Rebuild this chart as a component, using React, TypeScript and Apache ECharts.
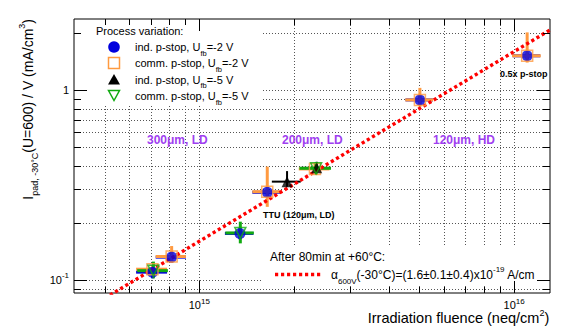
import React, { useEffect, useRef } from 'react';
import * as echarts from 'echarts';

const FONT = 'Liberation Sans, Arial, Helvetica, sans-serif';

// Axis ranges (read from the frame)
const X_MIN = 4.0e14;
const X_MAX = 1.3e16;
const Y_MIN = 0.0854;
const Y_MAX = 2.376;

// Grid / tick positions (log axes: 2..9 x decade)
const X_GRID = [5e14, 6e14, 7e14, 8e14, 9e14, 1e15, 2e15, 3e15, 4e15, 5e15, 6e15, 7e15, 8e15, 9e15, 1e16];
const Y_GRID = [0.09, 0.1, 0.2, 0.3, 0.4, 0.5, 0.6, 0.7, 0.8, 0.9, 1, 2];

// Each point: [fluence, I/V (mA/cm3), fluence error, I/V error low, I/V error high]
const indPstop2V = [
  [7.1e14, 0.110, 0.8e14, 0.008, 0.008],
  [8.17e14, 0.132, 0.9e14, 0.008, 0.008],
  [1.346e15, 0.176, 1.4e14, 0.012, 0.012],
  [1.644e15, 0.290, 1.7e14, 0.012, 0.012],
  [5.02e15, 0.89, 5.0e14, 0.04, 0.04],
  [1.1e16, 1.52, 1.1e15, 0.06, 0.06],
];
const commPstop2V = [
  [7.1e14, 0.114, 0.8e14, 0.006, 0.006],
  [8.17e14, 0.133, 0.9e14, 0.010, 0.018],
  [1.644e15, 0.292, 1.7e14, 0.049, 0.104],
  [2.33e15, 0.385, 2.6e14, 0.02, 0.025],
  [5.02e15, 0.89, 5.1e14, 0.07, 0.14],
  [1.1e16, 1.52, 1.15e15, 0.12, 0.5],
];
const indPstop5V = [
  [1.9e15, 0.33, 2.0e14, 0.02, 0.045],
  [2.36e15, 0.39, 2.6e14, 0.02, 0.03],
];
const commPstop5V = [
  [7.15e14, 0.112, 0.8e14, 0.010, 0.013],
  [1.35e15, 0.177, 1.4e14, 0.021, 0.026],
  [2.35e15, 0.388, 2.7e14, 0.03, 0.03],
];

// Fit line  alpha = 1.6e-19 A/cm  (end points read on the plot)
const FIT_LINE_X = [4.0e14, 1.3e16];
const FIT_LINE_Y = [0.064, 2.08];

const BLUE = '#0000dd';
const ORANGE = '#ff9a40';
const BLACK = '#000000';
const GREEN = '#11aa11';
const RED = '#ff0000';
const PURPLE = '#a040f0';

function isMajor(v: number) {
  const l = Math.log10(v);
  return Math.abs(l - Math.round(l)) < 1e-6;
}

function powLabel(v: number) {
  if (!isMajor(v)) return '';
  const e = Math.round(Math.log10(v));
  if (e === 0) return '1';
  return `{b|10}{s|${e}}`;
}

const labelRich = {
  b: { fontSize: 11, lineHeight: 16, fontFamily: FONT, color: '#000' },
  s: { fontSize: 8, lineHeight: 8, verticalAlign: 'top', fontFamily: FONT, color: '#000' },
};

function errorBarSeries(name: string, data: number[][], color: string, width: number) {
  return {
    type: 'custom',
    name: name + ' errors',
    z: 4,
    silent: true,
    clip: true,
    data,
    encode: { x: 0, y: 1 },
    renderItem: (params: any, api: any) => {
      const x = api.value(0);
      const y = api.value(1);
      const xe = api.value(2);
      const ylo = api.value(3);
      const yhi = api.value(4);
      const c = api.coord([x, y]);
      const l = api.coord([x - xe, y]);
      const r = api.coord([x + xe, y]);
      const t = api.coord([x, y + yhi]);
      const b = api.coord([x, y - ylo]);
      const st = { stroke: color, lineWidth: width };
      return {
        type: 'group',
        children: [
          { type: 'line', shape: { x1: l[0], y1: c[1], x2: r[0], y2: c[1] }, style: st },
          { type: 'line', shape: { x1: c[0], y1: t[1], x2: c[0], y2: b[1] }, style: st },
        ],
      };
    },
  };
}

export default function App() {
  const ref = useRef<HTMLDivElement>(null);
  useEffect(() => {
    if (!ref.current) return;
    const chart = echarts.init(ref.current, undefined, { renderer: 'svg' });
    const gridStyle = { stroke: '#555', lineWidth: 1, lineDash: [1, 2] };
    const tickStyle = { stroke: '#000', lineWidth: 1 };

    const option: any = {
      animation: false,
      backgroundColor: '#fff',
      textStyle: { fontFamily: FONT },
      grid: {
        left: 74, right: 35, top: 19, bottom: 36,
        show: true, borderColor: '#000', borderWidth: 1, backgroundColor: 'transparent',
        outerBoundsMode: 'none',
      },
      xAxis: {
        type: 'log', logBase: 10, min: X_MIN, max: X_MAX,
        axisLine: { show: false }, axisTick: { show: false }, splitLine: { show: false },
        axisLabel: { formatter: powLabel, margin: 4, rich: labelRich, fontSize: 11, color: '#000', showMinLabel: false, showMaxLabel: false },
        name: '{m|Irradiation fluence (neq/cm}{p|2}{m|)}',
        nameLocation: 'middle', nameGap: 15, nameMoveOverlap: false,
        nameTextStyle: {
          align: 'center', verticalAlign: 'top', padding: [0, 0, 0, 293],
          rich: {
            m: { fontSize: 14.5, lineHeight: 20, fontFamily: FONT, color: '#000' },
            p: { fontSize: 9, lineHeight: 10, verticalAlign: 'top', fontFamily: FONT, color: '#000' },
          },
        },
      },
      yAxis: {
        type: 'log', logBase: 10, min: Y_MIN, max: Y_MAX,
        axisLine: { show: false }, axisTick: { show: false }, splitLine: { show: false },
        axisLabel: { formatter: powLabel, margin: 5, rich: labelRich, fontSize: 11, color: '#000', showMinLabel: false, showMaxLabel: false },
        name: '{m|I}{sub|pad, -30°C}{m|(U=600) / V (mA/cm}{sup|3}{m|)}',
        nameLocation: 'end', nameGap: 0, nameRotate: 90, nameMoveOverlap: false,
        nameTextStyle: {
          align: 'right', verticalAlign: 'middle', padding: [0, 0, 92, 0],
          rich: {
            m: { fontSize: 14, lineHeight: 22, fontFamily: FONT, color: '#000' },
            sub: { fontSize: 9, lineHeight: 9, verticalAlign: 'bottom', fontFamily: FONT, color: '#000' },
            sup: { fontSize: 9, lineHeight: 10, verticalAlign: 'top', fontFamily: FONT, color: '#000' },
          },
        },
      },
      series: [
        {
          type: 'custom', name: 'x grid', z: 1, silent: true,
          data: X_GRID.map((v) => [v, 1]), encode: { x: 0, y: 1 },
          renderItem: (params: any, api: any) => {
            const p = api.coord([api.value(0), api.value(1)]);
            const cs = params.coordSys;
            const x = Math.round(p[0]) + 0.5;
            return { type: 'line', shape: { x1: x, y1: cs.y, x2: x, y2: cs.y + cs.height }, style: gridStyle };
          },
        },
        {
          type: 'custom', name: 'y grid', z: 1, silent: true,
          data: Y_GRID.map((v) => [1e15, v]), encode: { x: 0, y: 1 },
          renderItem: (params: any, api: any) => {
            const p = api.coord([api.value(0), api.value(1)]);
            const cs = params.coordSys;
            const y = Math.round(p[1]) + 0.5;
            return { type: 'line', shape: { x1: cs.x, y1: y, x2: cs.x + cs.width, y2: y }, style: gridStyle };
          },
        },
        {
          type: 'custom', name: 'x ticks', z: 9, silent: true,
          data: X_GRID.map((v) => [v, 1]), encode: { x: 0, y: 1 },
          renderItem: (params: any, api: any) => {
            const v = api.value(0);
            const p = api.coord([v, api.value(1)]);
            const cs = params.coordSys;
            const x = Math.round(p[0]) + 0.5;
            const len = isMajor(v) ? 12 : 6;
            const bot = cs.y + cs.height;
            return {
              type: 'group',
              children: [
                { type: 'line', shape: { x1: x, y1: bot, x2: x, y2: bot - len }, style: tickStyle },
                { type: 'line', shape: { x1: x, y1: cs.y, x2: x, y2: cs.y + len }, style: tickStyle },
              ],
            };
          },
        },
        {
          type: 'custom', name: 'y ticks', z: 9, silent: true,
          data: Y_GRID.map((v) => [1e15, v]), encode: { x: 0, y: 1 },
          renderItem: (params: any, api: any) => {
            const v = api.value(1);
            const p = api.coord([api.value(0), v]);
            const cs = params.coordSys;
            const y = Math.round(p[1]) + 0.5;
            const len = isMajor(v) ? 13 : 7;
            const right = cs.x + cs.width;
            return {
              type: 'group',
              children: [
                { type: 'line', shape: { x1: cs.x, y1: y, x2: cs.x + len, y2: y }, style: tickStyle },
                { type: 'line', shape: { x1: right, y1: y, x2: right - len, y2: y }, style: tickStyle },
              ],
            };
          },
        },
        {
          type: 'line', name: 'fit', z: 4, silent: true, symbol: 'none',
          data: FIT_LINE_X.map((x, i) => [x, FIT_LINE_Y[i]]),
          lineStyle: { color: RED, width: 3.4, type: [3.2, 2.8] },
        },
        errorBarSeries('ind. p-stop, Ufb=-2 V', indPstop2V, BLUE, 3),
        errorBarSeries('comm. p-stop, Ufb=-2 V', commPstop2V, ORANGE, 3),
        errorBarSeries('ind. p-stop, Ufb=-5 V', indPstop5V, BLACK, 2),
        errorBarSeries('comm. p-stop, Ufb=-5 V', commPstop5V, GREEN, 3),
        {
          type: 'scatter', name: 'ind. p-stop, Ufb=-2 V', z: 5, silent: true,
          data: indPstop2V.map((d) => [d[0], d[1]]),
          symbol: 'circle', symbolSize: 11, itemStyle: { color: BLUE },
        },
        {
          type: 'scatter', name: 'comm. p-stop, Ufb=-2 V', z: 5, silent: true,
          data: commPstop2V.map((d) => [d[0], d[1]]),
          symbol: 'rect', symbolSize: 11,
          itemStyle: { color: 'rgba(0,0,0,0)', borderColor: ORANGE, borderWidth: 1.5 },
        },
        {
          type: 'scatter', name: 'ind. p-stop, Ufb=-5 V', z: 5, silent: true,
          data: indPstop5V.map((d) => [d[0], d[1]]),
          symbol: 'triangle', symbolSize: 11, itemStyle: { color: BLACK },
        },
        {
          type: 'scatter', name: 'comm. p-stop, Ufb=-5 V', z: 5, silent: true,
          data: commPstop5V.map((d) => [d[0], d[1]]),
          symbol: 'triangle', symbolRotate: 180, symbolSize: 11,
          itemStyle: { color: 'rgba(0,0,0,0)', borderColor: GREEN, borderWidth: 1.5 },
        },
      ],
      graphic: [
        // legend box
        { type: 'rect', z: 3, silent: true, shape: { x: 75, y: 20, width: 188, height: 84 }, style: { fill: '#fff' } },
        { type: 'text', z: 6, x: 96, y: 31, style: { text: 'Process variation:', font: `11px ${FONT}`, fill: '#000', verticalAlign: 'middle' } },
        { type: 'circle', z: 6, shape: { cx: 114, cy: 47, r: 5.8 }, style: { fill: BLUE } },
        { type: 'rect', z: 6, shape: { x: 108.5, y: 57.5, width: 11, height: 11 }, style: { fill: 'none', stroke: ORANGE, lineWidth: 1.5 } },
        { type: 'polygon', z: 6, shape: { points: [[108, 84.5], [120, 84.5], [114, 74]] }, style: { fill: BLACK } },
        { type: 'polygon', z: 6, shape: { points: [[108.5, 90.5], [119.5, 90.5], [114, 100.5]] }, style: { fill: 'none', stroke: GREEN, lineWidth: 1.5 } },
        ...[
          ['ind. p-stop, U', '=-2 V', 47],
          ['comm. p-stop, U', '=-2 V', 63],
          ['ind. p-stop, U', '=-5 V', 79.5],
          ['comm. p-stop, U', '=-5 V', 96],
        ].map(([a, b, y]) => ({
          type: 'text', z: 6, x: 135, y: y as number,
          style: {
            text: `{m|${a}}{s|fb}{m|${b}}`,
            verticalAlign: 'middle',
            rich: {
              m: { fontSize: 11, lineHeight: 20, fontFamily: FONT, fill: '#000' },
              s: { fontSize: 7.5, lineHeight: 7, verticalAlign: 'bottom', fontFamily: FONT, fill: '#000' },
            },
          },
        })),
        // fit legend box
        { type: 'rect', z: 3, silent: true, shape: { x: 263, y: 246, width: 274, height: 40 }, style: { fill: '#fff' } },
        { type: 'text', z: 6, x: 270, y: 257, style: { text: 'After 80min at +60°C:', font: `12px ${FONT}`, fill: '#000', verticalAlign: 'middle' } },
        { type: 'line', z: 6, shape: { x1: 275, y1: 274.5, x2: 321, y2: 274.5 }, style: { stroke: RED, lineWidth: 3.4, lineDash: [3.2, 2.8] } },
        {
          type: 'text', z: 6, x: 331, y: 275,
          style: {
            text: '{m|α}{sub|600V}{m|(-30°C)=(1.6±0.1±0.4)x10}{sup|-19}{m| A/cm}',
            verticalAlign: 'middle',
            rich: {
              m: { fontSize: 12, lineHeight: 20, fontFamily: FONT, fill: '#000' },
              sub: { fontSize: 8, lineHeight: 8, verticalAlign: 'bottom', fontFamily: FONT, fill: '#000' },
              sup: { fontSize: 8, lineHeight: 8, verticalAlign: 'top', fontFamily: FONT, fill: '#000' },
            },
          },
        },
        // region labels
        { type: 'text', z: 6, x: 147, y: 140, style: { text: '300μm, LD', font: `bold 12px ${FONT}`, fill: PURPLE, verticalAlign: 'middle' } },
        { type: 'text', z: 6, x: 282, y: 140, style: { text: '200μm, LD', font: `bold 12px ${FONT}`, fill: PURPLE, verticalAlign: 'middle' } },
        { type: 'text', z: 6, x: 433, y: 140, style: { text: '120μm, HD', font: `bold 12px ${FONT}`, fill: PURPLE, verticalAlign: 'middle' } },
        { type: 'text', z: 6, x: 500, y: 74, style: { text: '0.5x p-stop', font: `bold 9px ${FONT}`, fill: '#000', verticalAlign: 'middle' } },
        { type: 'text', z: 6, x: 263, y: 215, style: { text: 'TTU (120μm, LD)', font: `bold 9px ${FONT}`, fill: '#000', verticalAlign: 'middle' } },
      ],
    };
    chart.setOption(option);
    return () => chart.dispose();
  }, []);
  return <div ref={ref} style={{ position: 'fixed', left: 0, top: 0, width: 585, height: 329, background: '#fff' }} />;
}
